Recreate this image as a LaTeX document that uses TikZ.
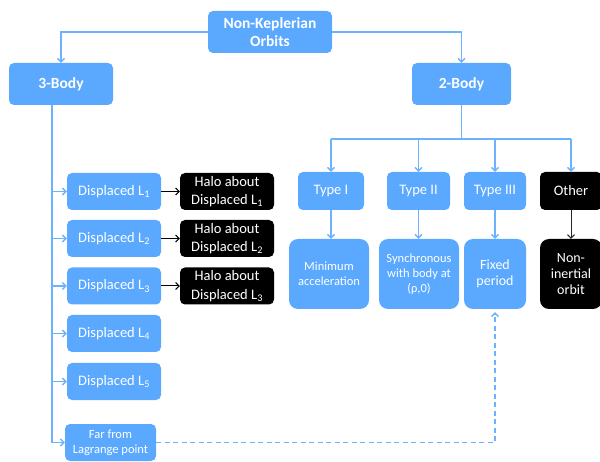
\documentclass[tikz,border=0pt]{standalone}
\usepackage{fontspec}
\setmainfont{Carlito}
\usetikzlibrary{arrows.meta}
\definecolor{boxblue}{HTML}{5AA9FF}
\definecolor{lineblue}{HTML}{6DB2FF}
\begin{document}
\begin{tikzpicture}[x=1pt,y=-1pt,
  base/.style={rounded corners=5pt, text=white, align=center, inner sep=0pt,
    font=\fontsize{14.5}{18.5}\selectfont},
  bbox/.style={base, fill=boxblue},
  kbox/.style={base, fill=black},
  big/.style={rounded corners=9pt},
  boldtxt/.style={font=\fontsize{15.5}{18}\selectfont\bfseries},
  small/.style={font=\fontsize{12.5}{15}\selectfont},
  mid/.style={font=\fontsize{14}{16}\selectfont},
  tip/.style={-{Straight Barb[length=3.5pt,width=7pt]}},
  line/.style={draw=lineblue, line width=1.3pt},
  conn/.style={line, tip},
  karrow/.style={draw=black, line width=1pt, tip},
  trunk/.style={draw=lineblue, line width=1.8pt}
]
\useasboundingbox (0,0) rectangle (600,462);

% top level
\node[bbox, boldtxt, minimum width=124pt, minimum height=42pt] (root) at (270,32) {Non-Keplerian\\Orbits};
\node[bbox, boldtxt, minimum width=104pt, minimum height=42pt] (b3) at (61,84) {3-Body};
\node[bbox, boldtxt, minimum width=99pt, minimum height=42pt] (b2) at (461.5,84) {2-Body};

% 3-body children
\node[bbox, minimum width=94pt, minimum height=37pt] (d1) at (114,191.5) {Displaced L\textsubscript{1}};
\node[bbox, minimum width=94pt, minimum height=37pt] (d2) at (114,238.5) {Displaced L\textsubscript{2}};
\node[bbox, minimum width=94pt, minimum height=37pt] (d3) at (114,286) {Displaced L\textsubscript{3}};
\node[bbox, minimum width=94pt, minimum height=37pt] (d4) at (114,333.5) {Displaced L\textsubscript{4}};
\node[bbox, minimum width=94pt, minimum height=37pt] (d5) at (114,381.5) {Displaced L\textsubscript{5}};
\node[bbox, small, minimum width=91pt, minimum height=37pt] (far) at (110.5,442.5) {Far from\\Lagrange point};

\node[kbox, minimum width=94pt, minimum height=37pt] (h1) at (227,191.5) {Halo about\\Displaced L\textsubscript{1}};
\node[kbox, minimum width=94pt, minimum height=37pt] (h2) at (227,238.5) {Halo about\\Displaced L\textsubscript{2}};
\node[kbox, minimum width=94pt, minimum height=37pt] (h3) at (227,286) {Halo about\\Displaced L\textsubscript{3}};

% 2-body children
\node[bbox, minimum width=66pt, minimum height=38pt] (t1) at (331,191) {Type I};
\node[bbox, minimum width=63pt, minimum height=38pt] (t2) at (418.5,191) {Type II};
\node[bbox, minimum width=62pt, minimum height=38pt] (t3) at (495,191) {Type III};
\node[kbox, minimum width=62pt, minimum height=38pt] (t4) at (571,191) {Other};

\node[bbox, big, small, minimum width=80pt, minimum height=70pt] (r1) at (329,274) {Minimum\\acceleration};
\node[bbox, big, small, minimum width=80pt, minimum height=70pt] (r2) at (419,274) {Synchronous\\with body at\\(ρ,0)};
\node[bbox, big, mid, minimum width=62pt, minimum height=70pt] (r3) at (495,274) {Fixed\\period};
\node[kbox, big, mid, minimum width=62pt, minimum height=70pt] (r4) at (571,274) {Non-\\inertial\\orbit};

% connectors from root
\draw[conn] (root.west) -| (b3.north);
\draw[conn] (root.east) -| (b2.north);

% 3-body trunk
\coordinate (tr) at (52,0);
\draw[trunk] (tr |- b3.south) -- (tr |- far.west);
\foreach \n in {d1,d2,d3,d4,d5,far}{
  \draw[conn] (tr |- \n.west) -- (\n.west);
}
\foreach \i in {1,2,3}{
  \draw[karrow] (d\i.east) -- (h\i.west);
}

% 2-body split
\coordinate (split) at (461.5,139);
\draw[line] (b2.south) -- (split);
\draw[line] (t1.north |- split) -- (t4.north |- split);
\foreach \n in {t1,t2,t3,t4}{
  \draw[conn] (\n.north |- split) -- (\n.north);
}
\foreach \a/\b in {t1/r1,t2/r2,t3/r3}{
  \draw[conn] (\a.south) -- (\a.south |- \b.north);
}
\draw[karrow, draw=black!85] (t4.south) -- (r4.north);

% dashed link
\draw[conn, dash pattern=on 5pt off 3.5pt] (far.east) -| ([yshift=-3pt]r3.south);
\end{tikzpicture}
\end{document}
